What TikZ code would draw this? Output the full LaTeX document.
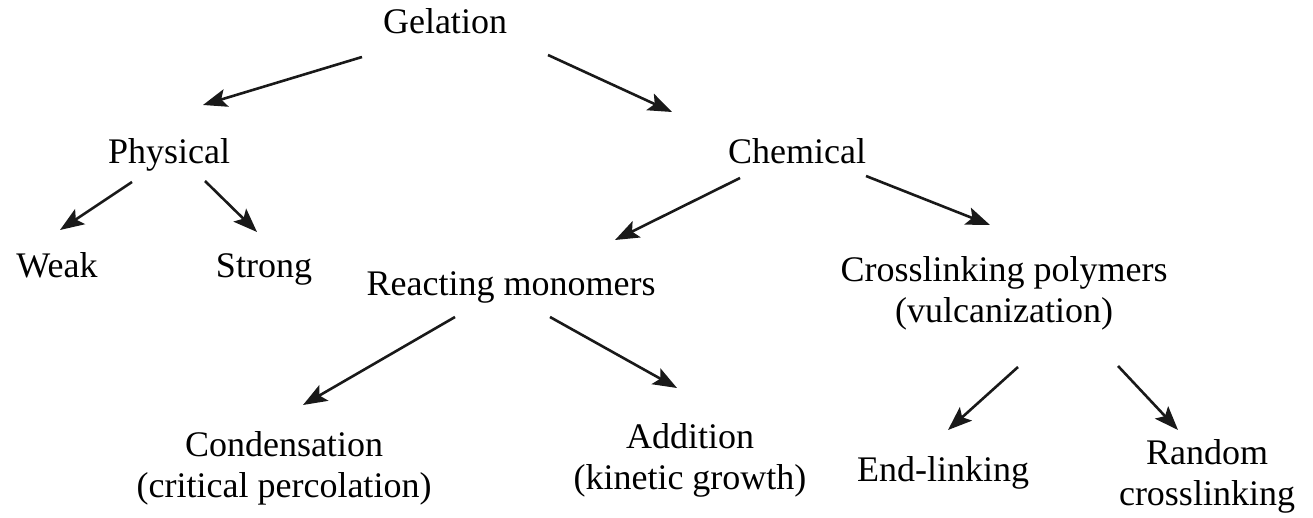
\documentclass[tikz,border=0pt]{standalone}
\usepackage{fontspec}
\setmainfont{Liberation Serif}
\usetikzlibrary{arrows.meta,calc}
\tikzset{
  lbl/.style={inner sep=0pt, anchor=base, align=center, font=\fontsize{36}{41}\selectfont},
  arr/.style={line width=2.6pt, -{Stealth[length=24pt,width=18pt,inset=5pt]}, black!90}
}
\begin{document}
\begin{tikzpicture}[x=1pt,y=1pt]
\useasboundingbox (0,0) rectangle (1313,-518);
\node[lbl] (gel) at (445,-34) {Gelation};
\node[lbl] (phys) at (169,-164) {Physical};
\node[lbl] (chem) at (797,-164) {Chemical};
\node[lbl] (weak) at (57,-278) {Weak};
\node[lbl] (strong) at (264,-278) {Strong};
\node[lbl] (react) at (511,-296) {Reacting monomers};
\node[lbl] (cross) at (1004,-323) {Crosslinking polymers\\(vulcanization)};
\node[lbl] (cond) at (284,-497) {Condensation\\(critical percolation)};
\node[lbl] (add) at (690,-489) {Addition\\(kinetic growth)};
\node[lbl] (endl) at (943,-481) {End-linking};
\node[lbl] (rand) at (1207,-505) {Random\\crosslinking};
\draw[arr] ($(gel.base)+(-83,-23)$) -- ($(phys.base)+(34,59)$);
\draw[arr] ($(gel.base)+(103,-21)$) -- ($(chem.base)+(-125,52)$);
\draw[arr] ($(phys.base)+(-37,-18)$) -- ($(weak.base)+(3,48)$);
\draw[arr] ($(phys.base)+(36,-17)$) -- ($(strong.base)+(-7,46)$);
\draw[arr] ($(chem.base)+(-57,-14)$) -- ($(react.base)+(104,56)$);
\draw[arr] ($(chem.base)+(69,-12)$) -- ($(cross.base)+(-14,98)$);
\draw[arr] ($(react.base)+(-56,-21)$) -- ($(cond.base)+(19,92)$);
\draw[arr] ($(react.base)+(39,-21)$) -- ($(add.base)+(-13,101)$);
\draw[arr] ($(cross.base)+(14,-44)$) -- ($(endl.base)+(5,51)$);
\draw[arr] ($(cross.base)+(114,-43)$) -- ($(rand.base)+(-29,75)$);
\end{tikzpicture}
\end{document}
